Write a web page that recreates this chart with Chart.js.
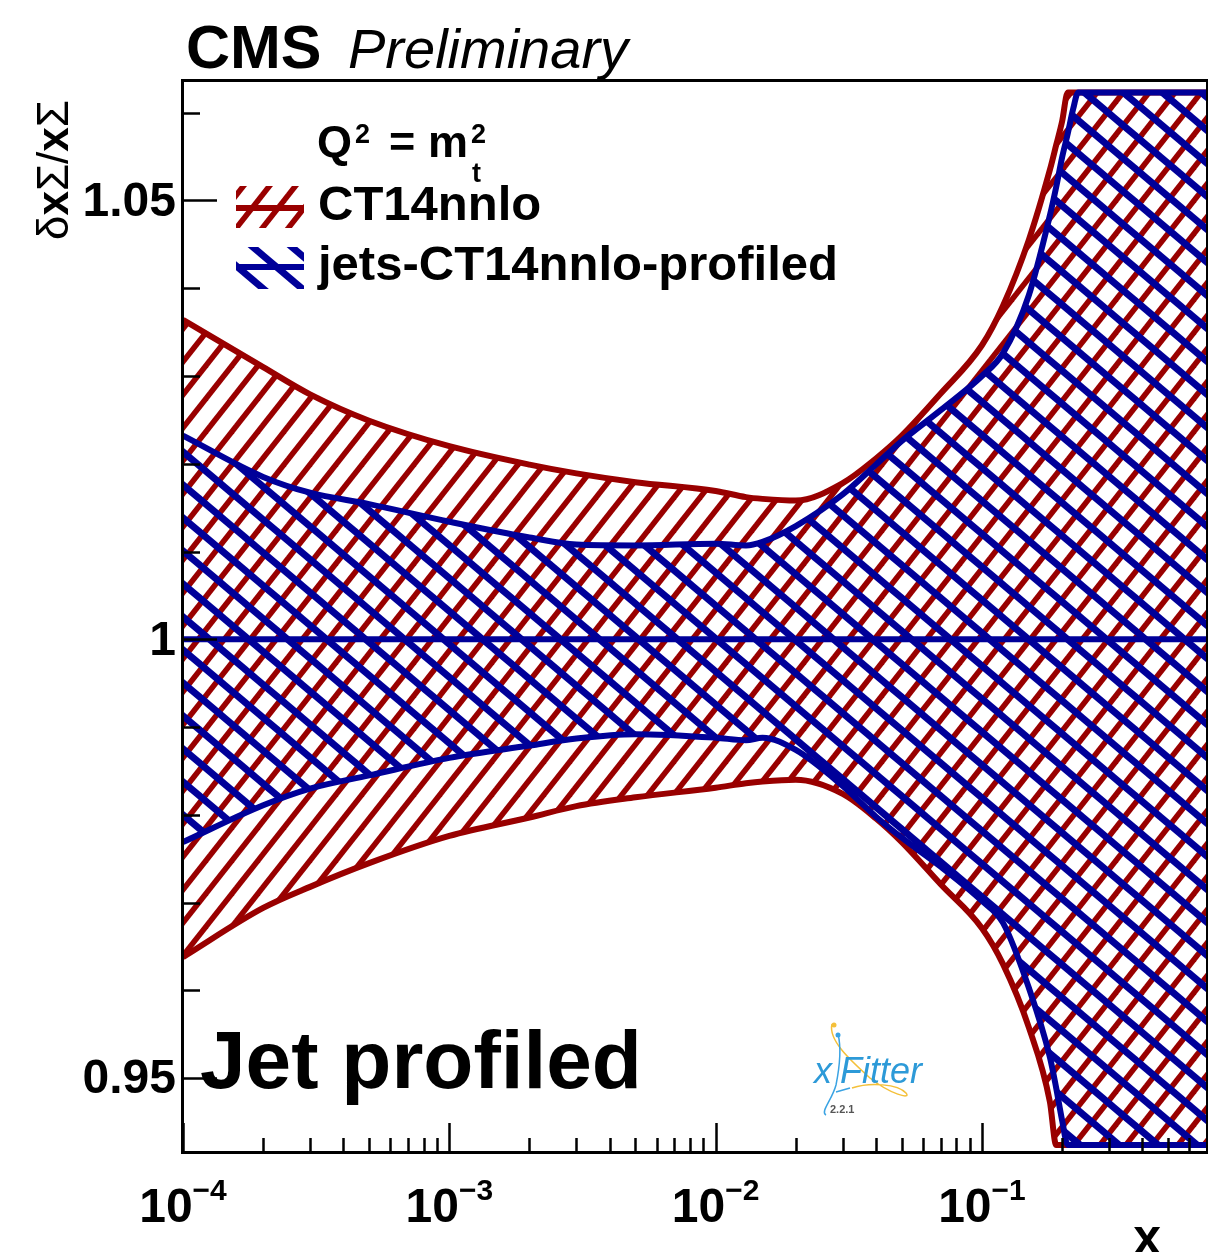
<!DOCTYPE html>
<html>
<head>
<meta charset="utf-8">
<script src="https://cdn.jsdelivr.net/npm/chart.js@4.4.1/dist/chart.umd.min.js"></script>
<style>
  html, body { margin: 0; padding: 0; background: #fff; }
  #c { display: block; }
</style>
</head>
<body>
<canvas id="c" width="1208" height="1252"></canvas>
<script>
'use strict';

// ── data ────────────────────────────────────────────────────────────────────
const X_POINTS = [1e-4, 2e-4, 3e-4, 5e-4, 1e-3, 2e-3, 3e-3, 5e-3, 1e-2, 1.3e-2, 1.5e-2, 2e-2,
                  3e-2, 4e-2, 5e-2, 7e-2, 0.1, 0.12, 0.15, 0.18, 0.19, 0.2, 0.21, 0.22, 0.23, 0.3, 0.5, 0.7];

const CT14_UP   = [1.0364, 1.0310, 1.0279, 1.0249, 1.0220, 1.0199, 1.0189, 1.0179, 1.0169, 1.0162, 1.0160, 1.0158,
                   1.0178, 1.0206, 1.0232, 1.0280, 1.0335, 1.0380, 1.0455, 1.0535, 1.0563, 1.0590, 1.0623, 1.0623, 1.0623, 1.0623, 1.0623, 1.0623];
const CT14_DN   = [0.9638, 0.9694, 0.9718, 0.9745, 0.9776, 0.9797, 0.9810, 0.9820, 0.9831, 0.9836, 0.9838, 0.9840,
                   0.9824, 0.9796, 0.9769, 0.9721, 0.9671, 0.9630, 0.9558, 0.9473, 0.9424, 0.9424, 0.9424, 0.9424, 0.9424, 0.9424, 0.9424, 0.9424];
const JETS_UP   = [1.0232, 1.0185, 1.0167, 1.0154, 1.0134, 1.0116, 1.0108, 1.0107, 1.0109, 1.0107, 1.0111, 1.0129,
                   1.0165, 1.0199, 1.0226, 1.0261, 1.0300, 1.0326, 1.0392, 1.0483, 1.0515, 1.0549, 1.0576, 1.0604, 1.0623, 1.0623, 1.0623, 1.0623];
const JETS_DN   = [0.9769, 0.9811, 0.9830, 0.9845, 0.9865, 0.9879, 0.9887, 0.9892, 0.9888, 0.9885, 0.9888, 0.9874,
                   0.9833, 0.9798, 0.9774, 0.9741, 0.9702, 0.9677, 0.9603, 0.9524, 0.9489, 0.9452, 0.9424, 0.9424, 0.9424, 0.9424, 0.9424, 0.9424];
const CENTRAL   = [1, 1];
const CENTRAL_X = [1e-4, 0.7];

const X_MIN = 1e-4, X_MAX = 0.7;
const Y_MIN = 0.9416, Y_MAX = 1.0636;

const Y_MAJOR     = [0.95, 1, 1.05];
const Y_LABELS    = ['0.95', '1', '1.05'];
const Y_MINOR     = [0.96, 0.97, 0.98, 0.99, 1.01, 1.02, 1.03, 1.04, 1.06];
const X_MAJOR     = [1e-4, 1e-3, 1e-2, 1e-1];
const X_EXPONENTS = ['\u22124', '\u22123', '\u22122', '\u22121'];

const LEGEND_LABELS = ['CT14nnlo', 'jets-CT14nnlo-profiled'];

// ── paleta ──────────────────────────────────────────────────────────────────
const COLOR_RED  = '#990000';
const COLOR_BLUE = '#000099';
const FONT = '"Liberation Sans", Arial, sans-serif';

const canvas = document.getElementById('c');
const mainCtx = canvas.getContext('2d');

// hatch tile: dir > 0 -> "/" , dir < 0 -> "\"
function makeHatch(color, w, h, lw, dir) {
    const t = document.createElement('canvas');
    t.width = w; t.height = h;
    const g = t.getContext('2d');
    g.strokeStyle = color;
    g.lineWidth = lw;
    for (const s of [-w, 0, w]) {
        g.beginPath();
        if (dir > 0) { g.moveTo(s - w, 2 * h); g.lineTo(s + 2 * w, -h); }
        else         { g.moveTo(s - w, -h);    g.lineTo(s + 2 * w, 2 * h); }
        g.stroke();
    }
    return mainCtx.createPattern(t, 'repeat');
}

const HATCH_RED  = makeHatch(COLOR_RED, 26, 33, 5.5, 1);
const HATCH_BLUE = makeHatch(COLOR_BLUE, 39, 33, 7, -1);

const pts = (xs, ys) => xs.map((x, i) => ({ x, y: ys[i] }));

// ── frame, ticks, texts (ROOT style) ───────────────────────────────────────
const rootFrame = {
    id: 'rootFrame',
    afterDraw(chart) {
        const { ctx, chartArea: a, scales: { x, y } } = chart;
        ctx.save();

        // frame
        ctx.strokeStyle = '#000';
        ctx.lineWidth = 3;
        ctx.strokeRect(a.left - 0.5, a.top - 0.5, a.right - a.left + 1, a.bottom - a.top + 1);

        // y ticks
        ctx.beginPath();
        Y_MAJOR.forEach(v => {
            const p = Math.round(y.getPixelForValue(v)) + 0.5;
            ctx.moveTo(a.left, p); ctx.lineTo(a.left + 34, p);
        });
        Y_MINOR.forEach(v => {
            const p = Math.round(y.getPixelForValue(v)) + 0.5;
            ctx.moveTo(a.left, p); ctx.lineTo(a.left + 17, p);
        });
        // x ticks
        for (let e = -4; e <= -1; e++) {
            for (let m = 1; m <= 9; m++) {
                const v = m * Math.pow(10, e);
                if (v > X_MAX) continue;
                const p = Math.round(x.getPixelForValue(v)) + 0.5;
                ctx.moveTo(p, a.bottom); ctx.lineTo(p, a.bottom - (m === 1 ? 29 : 14));
            }
        }
        ctx.lineWidth = 2.5;
        ctx.stroke();

        // y labels
        ctx.fillStyle = '#000';
        ctx.font = `bold 48px ${FONT}`;
        ctx.textAlign = 'right';
        ctx.textBaseline = 'middle';
        Y_MAJOR.forEach((v, i) => ctx.fillText(Y_LABELS[i], 176, y.getPixelForValue(v) + 2));

        // x labels 10^n
        ctx.textBaseline = 'alphabetic';
        ctx.textAlign = 'left';
        X_MAJOR.forEach((v, i) => {
            const p = x.getPixelForValue(v);
            ctx.font = `bold 48px ${FONT}`;
            const wb = ctx.measureText('10').width;
            ctx.font = `bold 30px ${FONT}`;
            const we = ctx.measureText(X_EXPONENTS[i]).width;
            const x0 = p - (wb + we) / 2;
            ctx.font = `bold 48px ${FONT}`;
            ctx.fillText('10', x0, 1222);
            ctx.font = `bold 30px ${FONT}`;
            ctx.fillText(X_EXPONENTS[i], x0 + wb, 1200);
        });

        // x title
        ctx.font = `bold 50px ${FONT}`;
        ctx.textAlign = 'right';
        ctx.fillText('x', 1161, 1254);

        // y title (rotated)
        ctx.save();
        ctx.translate(68, 100);
        ctx.rotate(-Math.PI / 2);
        const parts = [['\u03b4', ''], ['x', 'bold '], ['\u03a3', ''], ['/', ''], ['x', 'bold '], ['\u03a3', '']];
        let tw = 0;
        parts.forEach(([s, w]) => { ctx.font = `${w}44px ${FONT}`; tw += ctx.measureText(s).width; });
        ctx.textAlign = 'left';
        let cx = -tw;
        parts.forEach(([s, w]) => {
            ctx.font = `${w}44px ${FONT}`;
            ctx.fillText(s, cx, 0);
            cx += ctx.measureText(s).width;
        });
        ctx.restore();

        // CMS Preliminary
        ctx.textAlign = 'left';
        ctx.font = `bold 61px ${FONT}`;
        ctx.fillText('CMS', 186, 68);
        ctx.font = `italic 56px ${FONT}`;
        ctx.fillText('Preliminary', 348, 68);

        // legend header Q^2 = m_t^2
        ctx.font = `bold 45px ${FONT}`;
        ctx.fillText('Q', 317, 157);
        ctx.fillText('=', 389, 157);
        ctx.fillText('m', 428, 157);
        ctx.font = `bold 27px ${FONT}`;
        ctx.fillText('2', 355, 143);
        ctx.fillText('t', 472, 182);
        ctx.fillText('2', 471, 143);

        // legend entries
        const legend = [
            { pat: HATCH_RED,  col: COLOR_RED,  top: 186, mid: 208, base: 220 },
            { pat: HATCH_BLUE, col: COLOR_BLUE, top: 247, mid: 267, base: 280 },
        ];
        legend.forEach((l, i) => {
            ctx.fillStyle = l.pat;
            ctx.fillRect(236, l.top, 68, 42);
            ctx.strokeStyle = l.col;
            ctx.lineWidth = 6;
            ctx.beginPath();
            ctx.moveTo(236, l.mid); ctx.lineTo(304, l.mid);
            ctx.stroke();
            ctx.fillStyle = '#000';
            ctx.font = `bold 49px ${FONT}`;
            ctx.fillText(LEGEND_LABELS[i], 318, l.base);
        });

        // Jet profiled
        ctx.font = `bold 82px ${FONT}`;
        ctx.fillText('Jet profiled', 200, 1088);

        // xFitter logo
        ctx.lineWidth = 1.5;
        ctx.strokeStyle = '#f4c03a';
        ctx.beginPath();
        ctx.moveTo(832, 1024);
        ctx.bezierCurveTo(828, 1040, 850, 1060, 870, 1078);
        ctx.bezierCurveTo(890, 1094, 912, 1100, 906, 1093);
        ctx.bezierCurveTo(898, 1084, 870, 1082, 852, 1088);
        ctx.stroke();
        ctx.strokeStyle = '#3aa3e3';
        ctx.beginPath();
        ctx.moveTo(838, 1034);
        ctx.bezierCurveTo(842, 1050, 838, 1075, 836, 1085);
        ctx.bezierCurveTo(832, 1100, 820, 1112, 826, 1115);
        ctx.moveTo(836, 1092);
        ctx.lineTo(850, 1088);
        ctx.stroke();
        ctx.fillStyle = '#3aa3e3';
        ctx.beginPath(); ctx.arc(838, 1035, 2.5, 0, Math.PI * 2); ctx.fill();
        ctx.fillStyle = '#f4c03a';
        ctx.beginPath(); ctx.arc(834, 1025, 2.5, 0, Math.PI * 2); ctx.fill();
        ctx.fillStyle = '#2d9ad8';
        ctx.font = `italic 36px ${FONT}`;
        ctx.fillText('x', 814, 1083);
        ctx.fillText('Fitter', 840, 1083);
        ctx.fillStyle = '#555';
        ctx.font = `bold 11px ${FONT}`;
        ctx.fillText('2.2.1', 830, 1113);

        ctx.restore();
    },
};

// ── chart ───────────────────────────────────────────────────────────────────
const lineBase = {
    pointRadius: 0,
    borderWidth: 6,
    borderJoinStyle: 'round',
    cubicInterpolationMode: 'monotone',
};

new Chart(canvas, {
    type: 'line',
    data: {
        datasets: [
            { ...lineBase, label: 'CT14nnlo up',   data: pts(X_POINTS, CT14_UP), borderColor: COLOR_RED,
              backgroundColor: HATCH_RED, fill: '+1', order: 4 },
            { ...lineBase, label: 'CT14nnlo down', data: pts(X_POINTS, CT14_DN), borderColor: COLOR_RED,
              fill: false, order: 3 },
            { ...lineBase, label: 'jets up',   data: pts(X_POINTS, JETS_UP), borderColor: COLOR_BLUE,
              backgroundColor: HATCH_BLUE, fill: '+1', order: 2 },
            { ...lineBase, label: 'jets down', data: pts(X_POINTS, JETS_DN), borderColor: COLOR_BLUE,
              fill: false, order: 1 },
            { ...lineBase, label: 'central', data: pts(CENTRAL_X, CENTRAL), borderColor: COLOR_BLUE,
              fill: false, order: 0 },
        ],
    },
    options: {
        responsive: false,
        animation: false,
        events: [],
        layout: { padding: { left: 183, right: 1, top: 81, bottom: 100 } },
        plugins: { legend: { display: false }, tooltip: { enabled: false } },
        scales: {
            x: { type: 'logarithmic', min: X_MIN, max: X_MAX, display: false },
            y: { type: 'linear', min: Y_MIN, max: Y_MAX, display: false },
        },
    },
    plugins: [rootFrame],
});
</script>
</body>
</html>
